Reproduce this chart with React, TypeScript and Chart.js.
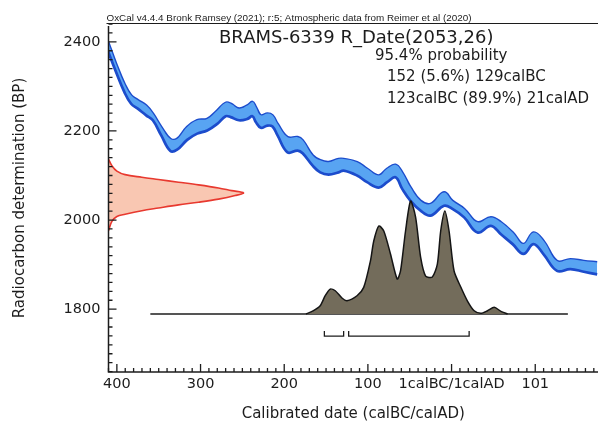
import React, { useEffect, useRef } from 'react';
import { Chart, registerables } from 'chart.js';
Chart.register(...registerables);

// ---- Calibration curve (IntCal band), calendar years (BC negative) ----
const calYears = [-411,-401,-391,-383,-375,-365,-357,-347,-336,-328,-316,-304,-292,-280,-270,-264,-254,-244,-238,-234,-228,-220,-214,-208,-196,-184,-178,-166,-157,-147,-135,-129,-113,-101,-87,-77,-67,-59,-49,-37,-25,-9,1,15,31,47,59,73,86,98,110,126,142,158,174];
const calUpper = [2402,2351,2306,2280,2269,2257,2239,2209,2182,2182,2209,2224,2227,2246,2263,2261,2250,2257,2265,2254,2235,2239,2235,2216,2186,2186,2179,2145,2134,2130,2137,2137,2130,2115,2100,2115,2124,2107,2073,2043,2036,2062,2043,2025,1995,2006,1995,1972,1946,1972,1953,1908,1912,1908,1905];
const calLower = [2381,2332,2287,2261,2250,2235,2224,2190,2155,2158,2180,2194,2201,2216,2233,2231,2224,2227,2233,2220,2207,2212,2210,2190,2152,2156,2150,2122,2107,2102,2107,2111,2100,2085,2073,2085,2096,2070,2043,2021,2010,2032,2025,2006,1972,1987,1968,1946,1924,1946,1923,1886,1890,1884,1878];

// ---- Radiocarbon determination (red, on BP axis) ----
const redBP = [2137,2122,2110,2102,2096,2091,2085,2079,2072,2066,2061,2055,2047,2040,2034,2027,2021,2013,2008,1997,1976];
const redDensity = [0,0.025,0.062,0.123,0.247,0.37,0.519,0.667,0.815,0.913,1.0,0.938,0.815,0.667,0.519,0.37,0.247,0.123,0.062,0.025,0];

// ---- Calibrated distribution (grey) ----
const grayYears = [-174,-165,-157,-151,-145,-139,-131,-125,-113,-105,-97,-93,-87,-81,-73,-65,-61,-55,-49,-43,-37,-31,-23,-17,-13,-8,-3,3,11,19,27,35,43,51,59,67];
const grayDensity = [0,0.03,0.073,0.162,0.221,0.206,0.142,0.118,0.162,0.236,0.469,0.646,0.779,0.735,0.531,0.31,0.381,0.735,1.0,0.858,0.504,0.336,0.327,0.442,0.735,0.912,0.735,0.381,0.239,0.115,0.029,0.006,0.029,0.059,0.024,0];
const baseFrom = -360;
const baseTo = 139;

// ---- 95.4% ranges ----
const rangeFrom = [-152, -123];
const rangeTo = [-129, 21];

// ---- Ticks & texts ----
const xTickValues = [-400, -300, -200, -100, 0, 100];
const xTickLabels = ['400', '300', '200', '100', '1calBC/1calAD', '101'];
const yTickValues = [1800, 2000, 2200, 2400];
const yTickLabels = ['1800', '2000', '2200', '2400'];
const headerText = 'OxCal v4.4.4 Bronk Ramsey (2021); r:5; Atmospheric data from Reimer et al (2020)';
const titleText = 'BRAMS-6339 R_Date(2053,26)';
const probLines = ['95.4% probability', '152 (5.6%) 129calBC', '123calBC (89.9%) 21calAD'];
const xTitle = 'Calibrated date (calBC/calAD)';
const yTitle = 'Radiocarbon determination (BP)';

const FONT = '"DejaVu Sans", sans-serif';
const INK = '#1c1c1c';

const framePlugin = {
  id: 'frame',
  afterDraw(chart: any) {
    const { ctx, chartArea: a, scales } = chart;
    const xs = scales.x;
    const ys = scales.y;
    ctx.save();
    ctx.strokeStyle = INK;
    ctx.lineWidth = 1.5;
    ctx.beginPath();
    ctx.moveTo(a.left, a.top + 2);
    ctx.lineTo(a.left, a.bottom);
    ctx.lineTo(a.right, a.bottom);
    ctx.stroke();
    ctx.lineWidth = 1;
    ctx.beginPath();
    ctx.moveTo(a.left - 2, a.top - 0.5);
    ctx.lineTo(a.right, a.top - 0.5);
    ctx.stroke();
    ctx.lineWidth = 1.3;
    ctx.beginPath();
    for (let v = -410; v <= xs.max; v += 10) {
      const px = xs.getPixelForValue(v);
      const len = v % 100 === 0 ? 8 : 4;
      ctx.moveTo(px, a.bottom);
      ctx.lineTo(px, a.bottom - len);
    }
    for (let v = 1660; v <= ys.max; v += 20) {
      const py = ys.getPixelForValue(v);
      const len = v % 200 === 0 ? 8 : 4;
      ctx.moveTo(a.left, py);
      ctx.lineTo(a.left + len, py);
    }
    ctx.stroke();

    ctx.fillStyle = INK;
    ctx.textBaseline = 'alphabetic';
    ctx.textAlign = 'left';
    ctx.font = '9.9px "Liberation Sans", sans-serif';
    ctx.fillText(headerText, a.left - 2, a.top - 3);
    ctx.font = '18px ' + FONT;
    ctx.fillText(titleText, 219, 43);
    ctx.font = '15px ' + FONT;
    ctx.fillText(probLines[0], 375, 60);
    ctx.fillText(probLines[1], 387, 81);
    ctx.fillText(probLines[2], 387, 103);
    ctx.restore();
  },
};

export default function App() {
  const ref = useRef<HTMLCanvasElement>(null);
  useEffect(() => {
    if (!ref.current) return;
    const blue = '#1c4ccc';
    const blueFill = '#58a4f2';
    const bracketSets = rangeFrom.map((f, i) => ({
      data: [
        { x: f, y: -0.15 },
        { x: f, y: -0.195 },
        { x: rangeTo[i], y: -0.195 },
        { x: rangeTo[i], y: -0.15 },
      ],
      yAxisID: 'yProb',
      borderColor: INK,
      borderWidth: 1.3,
      pointRadius: 0,
      fill: false,
      tension: 0,
      order: 1,
    }));
    const chart = new Chart(ref.current, {
      type: 'line',
      data: {
        datasets: [
          {
            data: calYears.map((x, i) => ({ x, y: calUpper[i] })),
            borderColor: blue,
            borderWidth: 2.7,
            pointRadius: 0,
            fill: false,
            tension: 0.4,
            order: 6,
          },
          {
            data: calYears.map((x, i) => ({ x, y: calLower[i] })),
            borderColor: blue,
            backgroundColor: blueFill,
            borderWidth: 2.7,
            pointRadius: 0,
            fill: '-1',
            tension: 0.4,
            order: 5,
          },
          {
            data: redBP.map((y, i) => ({ x: redDensity[i], y })),
            xAxisID: 'xProb',
            borderColor: '#e8392f',
            backgroundColor: '#f9c7b2',
            borderWidth: 1.6,
            pointRadius: 0,
            fill: 'shape',
            tension: 0.35,
            order: 4,
          },
          {
            data: [
              { x: baseFrom, y: 0 },
              { x: baseTo, y: 0 },
            ],
            yAxisID: 'yProb',
            borderColor: INK,
            borderWidth: 1.6,
            pointRadius: 0,
            fill: false,
            order: 3,
          },
          {
            data: grayYears.map((x, i) => ({ x, y: grayDensity[i] })),
            yAxisID: 'yProb',
            borderColor: '#151515',
            backgroundColor: '#736c5b',
            borderWidth: 1.5,
            pointRadius: 0,
            fill: 'origin',
            tension: 0.25,
            order: 2,
          },
          ...bracketSets,
        ] as any,
      },
      options: {
        responsive: false,
        animation: false,
        devicePixelRatio: 1,
        events: [],
        layout: { padding: { top: 24, left: 0, right: 0, bottom: 0 } },
        plugins: { legend: { display: false }, tooltip: { enabled: false }, title: { display: false } },
        scales: {
          x: {
            type: 'linear',
            min: -410,
            max: 175,
            grid: { display: false, drawTicks: false },
            border: { display: false },
            afterBuildTicks: (s: any) => {
              s.ticks = xTickValues.map((v) => ({ value: v }));
            },
            afterFit: (s: any) => {
              s.height = 51;
            },
            ticks: {
              autoSkip: false,
              maxRotation: 0,
              padding: 4,
              color: INK,
              font: { family: FONT, size: 14.5 },
              callback: (v: any) => {
                const k = xTickValues.indexOf(Number(v));
                return k >= 0 ? xTickLabels[k] : '';
              },
            },
            title: {
              display: true,
              text: xTitle,
              color: INK,
              font: { family: FONT, size: 15 },
              padding: { top: 0, bottom: 0 },
            },
          },
          y: {
            type: 'linear',
            min: 1659,
            max: 2440,
            grid: { display: false, drawTicks: false },
            border: { display: false },
            afterBuildTicks: (s: any) => {
              s.ticks = yTickValues.map((v) => ({ value: v }));
            },
            afterFit: (s: any) => {
              s.width = 108.5;
            },
            ticks: {
              padding: 8,
              color: INK,
              font: { family: FONT, size: 14.5 },
              callback: (v: any) => {
                const k = yTickValues.indexOf(Number(v));
                return k >= 0 ? yTickLabels[k] : '';
              },
            },
            title: {
              display: true,
              text: yTitle,
              color: INK,
              font: { family: FONT, size: 15 },
              padding: { top: 11, bottom: 0 },
            },
          },
          xProb: { type: 'linear', display: false, min: 0, max: 3.626 },
          yProb: { type: 'linear', display: false, min: -0.513, max: 2.567 },
        },
      } as any,
      plugins: [framePlugin],
    });
    return () => chart.destroy();
  }, []);
  return (
    <div style={{ position: 'fixed', left: 0, top: 0, width: 598, height: 423, background: '#fff' }}>
      <canvas ref={ref} width={598} height={423} style={{ display: 'block' }} />
    </div>
  );
}
